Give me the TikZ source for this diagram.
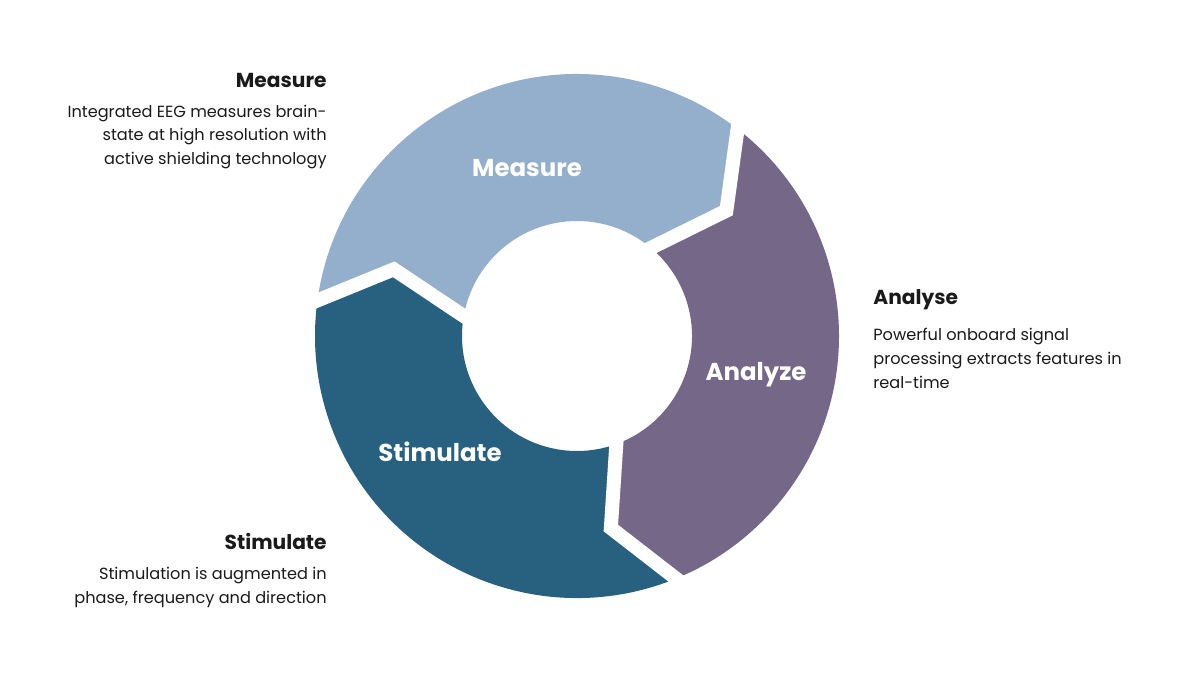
\documentclass[tikz,border=0pt]{standalone}
\usepackage{fontspec}
\setmainfont{Poppins}
\usetikzlibrary{calc}

\definecolor{measurecol}{RGB}{147,175,203}
\definecolor{analyzecol}{RGB}{117,103,135}
\definecolor{stimcol}{RGB}{40,96,128}
\definecolor{txtcol}{RGB}{26,26,26}

\tikzset{
  ringlabel/.style={text=white,font=\fontsize{13.9}{16}\selectfont\bfseries},
  headtext/.style={text=txtcol,inner sep=0pt,font=\fontsize{11.5}{13}\selectfont\bfseries},
  bodytext/.style={text=txtcol,inner sep=0pt,font=\fontsize{9.2}{13.6}\selectfont},
  gapline/.style={draw=white,line width=0.28cm,line join=miter}
}

\begin{document}
\begin{tikzpicture}[x=0.2mm,y=0.2mm]
\useasboundingbox (-577,-339) rectangle (623,336);

% Measure segment
\fill[measurecol] (172.2:262) arc[start angle=172.2,end angle=52.2,radius=5.24cm]
  -- (40:195) -- (50:115) arc[start angle=50,end angle=170,radius=2.3cm]
  -- (160:195) -- cycle;

% Analyze segment
\fill[analyzecol] (52.2:262) arc[start angle=52.2,end angle=-67.8,radius=5.24cm]
  -- (-80:195) -- (-70:115) arc[start angle=-70,end angle=50,radius=2.3cm]
  -- (40:195) -- cycle;

% Stimulate segment
\fill[stimcol] (-67.8:262) arc[start angle=-67.8,end angle=-187.8,radius=5.24cm]
  -- (160:195) -- (170:115) arc[start angle=170,end angle=290,radius=2.3cm]
  -- (-80:195) -- cycle;

% White gaps between the arrows
\foreach \a in {52.2,172.2,292.2}{
  \coordinate (tip) at (\a-12.2:195);
  \draw[gapline] ($(tip)!1.15!(\a:262)$) -- (tip) -- ($(tip)!1.15!(\a-2.2:115)$);
}

% Labels in the ring
\node[ringlabel] (measure) at (-50,168) {Measure};
\node[ringlabel] (analyze) at (179,-39) {Analyze};
\node[ringlabel] (stimulate) at (-137,-116) {Stimulate};

% Measure text
\node[headtext,anchor=east] (measurehead) at (-250,256) {Measure};
\node[bodytext,anchor=east,align=right] (measurebody) at (-250,199)
  {Integrated EEG measures brain-\\state at high resolution with\\active shielding technology};

% Analyse text
\node[headtext,anchor=west] (analysehead) at (296,36) {Analyse};
\node[bodytext,anchor=west,align=left] (analysebody) at (296,-22)
  {Powerful onboard signal\\processing extracts features in\\real-time};

% Stimulate text
\node[headtext,anchor=east] (stimhead) at (-250,-205) {Stimulate};
\node[bodytext,anchor=east,align=right] (stimbody) at (-250,-251)
  {Stimulation is augmented in\\phase, frequency and direction};

\end{tikzpicture}
\end{document}
